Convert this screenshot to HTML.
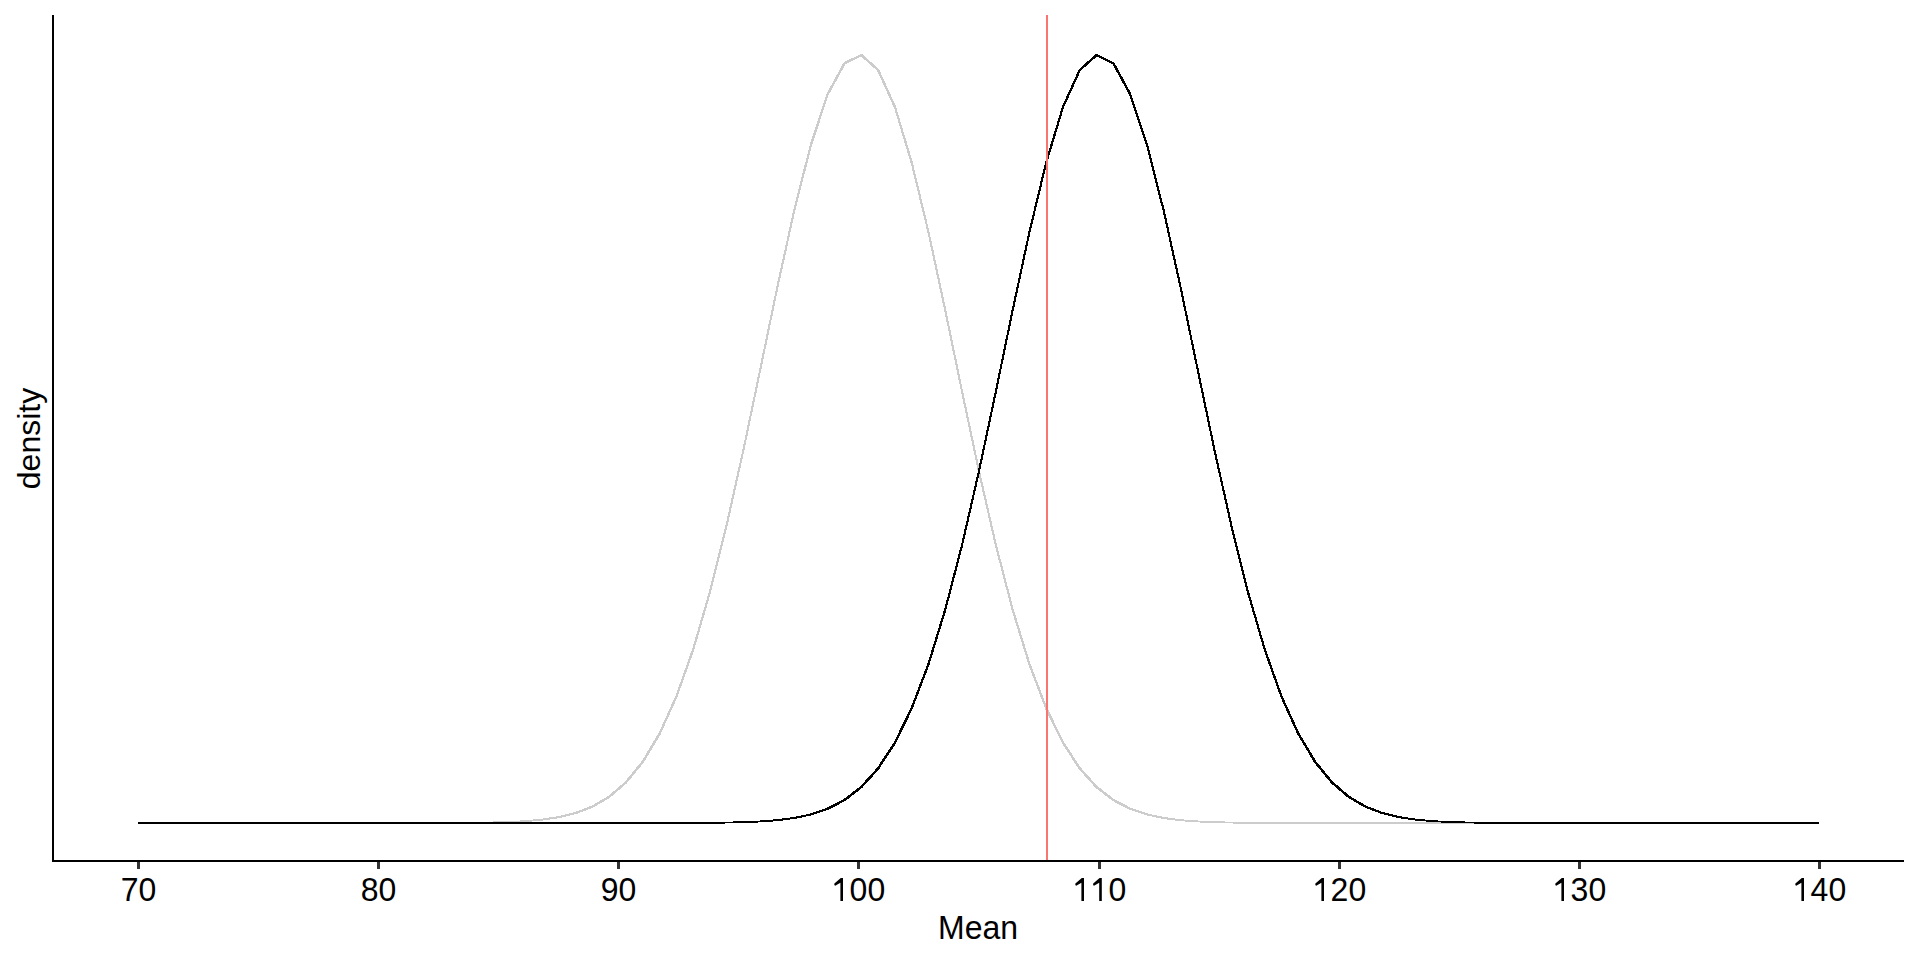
<!DOCTYPE html>
<html><head><meta charset="utf-8"><style>
html,body{margin:0;padding:0;background:#fff;}
body{width:1920px;height:960px;overflow:hidden;}
svg{display:block;}
text{font-family:"Liberation Sans",sans-serif;font-size:32px;fill:#000;}
</style></head><body>
<svg width="1920" height="960" viewBox="0 0 1920 960">
<rect width="1920" height="960" fill="#fff"/>
<defs><clipPath id="c"><rect x="138" y="0" width="1681" height="960"/></clipPath></defs>
<path d="M137.55,822.1 L156.16,822.1 L156.16,823.9 L137.55,823.9ZM154.36,822.1 L172.97,822.1 L172.97,823.9 L154.36,823.9ZM171.17,822.1 L189.78,822.1 L189.78,823.9 L171.17,823.9ZM187.98,822.1 L206.59,822.1 L206.59,823.9 L187.98,823.9ZM204.79,822.1 L223.4,822.1 L223.4,823.9 L204.79,823.9ZM221.6,822.1 L240.21,822.1 L240.21,823.9 L221.6,823.9ZM238.41,822.1 L257.02,822.1 L257.02,823.9 L238.41,823.9ZM255.22,822.1 L273.83,822.1 L273.83,823.9 L255.22,823.9ZM272.03,822.1 L290.64,822.1 L290.64,823.9 L272.03,823.9ZM288.84,822.1 L307.45,822.1 L307.45,823.9 L288.84,823.9ZM305.65,822.1 L324.26,822.1 L324.26,823.9 L305.65,823.9ZM322.46,822.1 L341.07,822.1 L341.07,823.9 L322.46,823.9ZM339.27,822.1 L357.88,822.1 L357.88,823.9 L339.27,823.9ZM356.08,822.1 L374.69,822.1 L374.69,823.9 L356.08,823.9ZM372.89,822.1 L389.7,822.09 L391.5,822.09 L391.5,823.89 L374.69,823.9 L372.89,823.9ZM389.7,822.09 L408.31,822.09 L408.31,823.89 L389.7,823.89ZM406.51,822.09 L423.32,822.07 L425.12,822.07 L425.12,823.87 L408.31,823.89 L406.51,823.89ZM423.32,822.07 L440.13,822.04 L441.93,822.04 L441.93,823.84 L425.12,823.87 L423.32,823.87ZM440.13,822.04 L456.94,821.97 L458.74,821.97 L458.74,823.77 L441.93,823.84 L440.13,823.84ZM456.94,821.97 L473.75,821.84 L475.55,821.84 L475.55,823.64 L458.74,823.77 L456.94,823.77ZM473.75,821.84 L490.56,821.59 L492.36,821.59 L492.36,823.39 L475.55,823.64 L473.75,823.64ZM490.56,821.59 L507.37,821.12 L509.17,821.12 L509.17,822.92 L492.36,823.39 L490.56,823.39ZM507.37,821.12 L524.18,820.27 L525.98,820.27 L525.98,822.07 L509.17,822.92 L507.37,822.92ZM524.18,820.27 L540.99,818.78 L542.79,818.78 L542.79,820.58 L525.98,822.07 L524.18,822.07ZM540.99,818.78 L557.8,816.28 L559.6,816.28 L559.6,818.08 L542.79,820.58 L540.99,820.58ZM557.8,816.28 L574.61,812.2 L576.41,812.2 L576.41,814 L559.6,818.08 L557.8,818.08ZM574.61,812.2 L591.42,805.76 L593.22,805.76 L593.22,807.56 L576.41,814 L574.61,814ZM591.42,805.76 L608.23,795.94 L610.03,795.94 L610.03,797.74 L593.22,807.56 L591.42,807.56ZM608.23,795.94 L625.04,781.5 L626.84,781.5 L626.84,783.3 L610.03,797.74 L608.23,797.74ZM625.04,781.5 L641.85,760.98 L643.65,760.98 L643.65,762.78 L626.84,783.3 L625.04,783.3ZM641.85,760.98 L658.66,732.86 L660.46,732.86 L660.46,734.66 L643.65,762.78 L641.85,762.78ZM658.66,732.86 L675.47,695.74 L677.27,695.74 L677.27,697.54 L660.46,734.66 L658.66,734.66ZM675.47,695.74 L692.28,648.58 L694.08,648.58 L694.08,650.38 L677.27,697.54 L675.47,697.54ZM692.28,648.58 L709.09,591 L710.89,591 L710.89,592.8 L694.08,650.38 L692.28,650.38ZM709.09,591 L725.9,523.59 L727.7,523.59 L727.7,525.39 L710.89,592.8 L709.09,592.8ZM725.9,523.59 L742.71,448.16 L744.51,448.16 L744.51,449.96 L727.7,525.39 L725.9,525.39ZM742.71,448.16 L759.52,367.79 L761.32,367.79 L761.32,369.59 L744.51,449.96 L742.71,449.96ZM759.52,367.79 L776.33,286.79 L778.13,286.79 L778.13,288.59 L761.32,369.59 L759.52,369.59ZM776.33,286.79 L793.14,210.37 L794.94,210.37 L794.94,212.17 L778.13,288.59 L776.33,288.59ZM793.14,210.37 L809.95,144.13 L811.75,144.13 L811.75,145.93 L794.94,212.17 L793.14,212.17ZM809.95,144.13 L826.76,93.38 L828.56,93.38 L828.56,95.18 L811.75,145.93 L809.95,145.93ZM826.76,93.38 L843.57,62.45 L845.37,62.45 L845.37,64.25 L828.56,95.18 L826.76,95.18ZM843.57,62.45 L860.38,54.1 L862.18,54.1 L862.18,55.9 L845.37,64.25 L843.57,64.25ZM860.38,54.1 L862.18,54.1 L878.99,69.07 L878.99,70.87 L877.19,70.87 L860.38,55.9ZM877.19,69.07 L878.99,69.07 L895.8,106.02 L895.8,107.82 L894,107.82 L877.19,70.87ZM894,106.02 L895.8,106.02 L912.61,161.7 L912.61,163.5 L910.81,163.5 L894,107.82ZM910.81,161.7 L912.61,161.7 L929.42,231.41 L929.42,233.21 L927.62,233.21 L910.81,163.5ZM927.62,231.41 L929.42,231.41 L946.23,309.7 L946.23,311.5 L944.43,311.5 L927.62,233.21ZM944.43,309.7 L946.23,309.7 L963.04,391.02 L963.04,392.82 L961.24,392.82 L944.43,311.5ZM961.24,391.02 L963.04,391.02 L979.85,470.37 L979.85,472.17 L978.05,472.17 L961.24,392.82ZM978.05,470.37 L979.85,470.37 L996.66,543.77 L996.66,545.57 L994.86,545.57 L978.05,472.17ZM994.86,543.77 L996.66,543.77 L1013.47,608.5 L1013.47,610.3 L1011.67,610.3 L994.86,545.57ZM1011.67,608.5 L1013.47,608.5 L1030.28,663.12 L1030.28,664.92 L1028.48,664.92 L1011.67,610.3ZM1028.48,663.12 L1030.28,663.12 L1047.09,707.34 L1047.09,709.14 L1045.29,709.14 L1028.48,664.92ZM1045.29,707.34 L1047.09,707.34 L1063.9,741.76 L1063.9,743.56 L1062.1,743.56 L1045.29,709.14ZM1062.1,741.76 L1063.9,741.76 L1080.71,767.55 L1080.71,769.35 L1078.91,769.35 L1062.1,743.56ZM1078.91,767.55 L1080.71,767.55 L1097.52,786.18 L1097.52,787.98 L1095.72,787.98 L1078.91,769.35ZM1095.72,786.18 L1097.52,786.18 L1114.33,799.16 L1114.33,800.96 L1112.53,800.96 L1095.72,787.98ZM1112.53,799.16 L1114.33,799.16 L1131.14,807.89 L1131.14,809.69 L1129.34,809.69 L1112.53,800.96ZM1129.34,807.89 L1131.14,807.89 L1147.95,813.57 L1147.95,815.37 L1146.15,815.37 L1129.34,809.69ZM1146.15,813.57 L1147.95,813.57 L1164.76,817.13 L1164.76,818.93 L1162.96,818.93 L1146.15,815.37ZM1162.96,817.13 L1164.76,817.13 L1181.57,819.29 L1181.57,821.09 L1179.77,821.09 L1162.96,818.93ZM1179.77,819.29 L1181.57,819.29 L1198.38,820.56 L1198.38,822.36 L1196.58,822.36 L1179.77,821.09ZM1196.58,820.56 L1198.38,820.56 L1215.19,821.28 L1215.19,823.08 L1213.39,823.08 L1196.58,822.36ZM1213.39,821.28 L1215.19,821.28 L1232,821.68 L1232,823.48 L1230.2,823.48 L1213.39,823.08ZM1230.2,821.68 L1232,821.68 L1248.81,821.89 L1248.81,823.69 L1247.01,823.69 L1230.2,823.48ZM1247.01,821.89 L1248.81,821.89 L1265.62,822 L1265.62,823.8 L1263.82,823.8 L1247.01,823.69ZM1263.82,822 L1265.62,822 L1282.43,822.05 L1282.43,823.85 L1280.63,823.85 L1263.82,823.8ZM1280.63,822.05 L1282.43,822.05 L1299.24,822.08 L1299.24,823.88 L1297.44,823.88 L1280.63,823.85ZM1297.44,822.08 L1299.24,822.08 L1316.05,822.09 L1316.05,823.89 L1314.25,823.89 L1297.44,823.88ZM1314.25,822.09 L1316.05,822.09 L1332.86,822.1 L1332.86,823.9 L1331.06,823.9 L1314.25,823.89ZM1331.06,822.1 L1349.67,822.1 L1349.67,823.9 L1331.06,823.9ZM1347.87,822.1 L1366.48,822.1 L1366.48,823.9 L1347.87,823.9ZM1364.68,822.1 L1383.29,822.1 L1383.29,823.9 L1364.68,823.9ZM1381.49,822.1 L1400.1,822.1 L1400.1,823.9 L1381.49,823.9ZM1398.3,822.1 L1416.91,822.1 L1416.91,823.9 L1398.3,823.9ZM1415.11,822.1 L1433.72,822.1 L1433.72,823.9 L1415.11,823.9ZM1431.92,822.1 L1450.53,822.1 L1450.53,823.9 L1431.92,823.9ZM1448.73,822.1 L1467.34,822.1 L1467.34,823.9 L1448.73,823.9ZM1465.54,822.1 L1484.15,822.1 L1484.15,823.9 L1465.54,823.9ZM1482.35,822.1 L1500.96,822.1 L1500.96,823.9 L1482.35,823.9ZM1499.16,822.1 L1517.77,822.1 L1517.77,823.9 L1499.16,823.9ZM1515.97,822.1 L1534.58,822.1 L1534.58,823.9 L1515.97,823.9ZM1532.78,822.1 L1551.39,822.1 L1551.39,823.9 L1532.78,823.9ZM1549.59,822.1 L1568.2,822.1 L1568.2,823.9 L1549.59,823.9ZM1566.4,822.1 L1585.01,822.1 L1585.01,823.9 L1566.4,823.9ZM1583.21,822.1 L1601.82,822.1 L1601.82,823.9 L1583.21,823.9ZM1600.02,822.1 L1618.63,822.1 L1618.63,823.9 L1600.02,823.9ZM1616.83,822.1 L1635.44,822.1 L1635.44,823.9 L1616.83,823.9ZM1633.64,822.1 L1652.25,822.1 L1652.25,823.9 L1633.64,823.9ZM1650.45,822.1 L1669.06,822.1 L1669.06,823.9 L1650.45,823.9ZM1667.26,822.1 L1685.87,822.1 L1685.87,823.9 L1667.26,823.9ZM1684.07,822.1 L1702.68,822.1 L1702.68,823.9 L1684.07,823.9ZM1700.88,822.1 L1719.49,822.1 L1719.49,823.9 L1700.88,823.9ZM1717.69,822.1 L1736.3,822.1 L1736.3,823.9 L1717.69,823.9ZM1734.5,822.1 L1753.11,822.1 L1753.11,823.9 L1734.5,823.9ZM1751.31,822.1 L1769.92,822.1 L1769.92,823.9 L1751.31,823.9ZM1768.12,822.1 L1786.73,822.1 L1786.73,823.9 L1768.12,823.9ZM1784.93,822.1 L1803.54,822.1 L1803.54,823.9 L1784.93,823.9ZM1801.74,822.1 L1820.35,822.1 L1820.35,823.9 L1801.74,823.9Z" fill="#CCCCCC" shape-rendering="crispEdges" clip-path="url(#c)"/>
<path d="M137.55,822.1 L156.16,822.1 L156.16,823.9 L137.55,823.9ZM154.36,822.1 L172.97,822.1 L172.97,823.9 L154.36,823.9ZM171.17,822.1 L189.78,822.1 L189.78,823.9 L171.17,823.9ZM187.98,822.1 L206.59,822.1 L206.59,823.9 L187.98,823.9ZM204.79,822.1 L223.4,822.1 L223.4,823.9 L204.79,823.9ZM221.6,822.1 L240.21,822.1 L240.21,823.9 L221.6,823.9ZM238.41,822.1 L257.02,822.1 L257.02,823.9 L238.41,823.9ZM255.22,822.1 L273.83,822.1 L273.83,823.9 L255.22,823.9ZM272.03,822.1 L290.64,822.1 L290.64,823.9 L272.03,823.9ZM288.84,822.1 L307.45,822.1 L307.45,823.9 L288.84,823.9ZM305.65,822.1 L324.26,822.1 L324.26,823.9 L305.65,823.9ZM322.46,822.1 L341.07,822.1 L341.07,823.9 L322.46,823.9ZM339.27,822.1 L357.88,822.1 L357.88,823.9 L339.27,823.9ZM356.08,822.1 L374.69,822.1 L374.69,823.9 L356.08,823.9ZM372.89,822.1 L391.5,822.1 L391.5,823.9 L372.89,823.9ZM389.7,822.1 L408.31,822.1 L408.31,823.9 L389.7,823.9ZM406.51,822.1 L425.12,822.1 L425.12,823.9 L406.51,823.9ZM423.32,822.1 L441.93,822.1 L441.93,823.9 L423.32,823.9ZM440.13,822.1 L458.74,822.1 L458.74,823.9 L440.13,823.9ZM456.94,822.1 L475.55,822.1 L475.55,823.9 L456.94,823.9ZM473.75,822.1 L492.36,822.1 L492.36,823.9 L473.75,823.9ZM490.56,822.1 L509.17,822.1 L509.17,823.9 L490.56,823.9ZM507.37,822.1 L525.98,822.1 L525.98,823.9 L507.37,823.9ZM524.18,822.1 L542.79,822.1 L542.79,823.9 L524.18,823.9ZM540.99,822.1 L559.6,822.1 L559.6,823.9 L540.99,823.9ZM557.8,822.1 L576.41,822.1 L576.41,823.9 L557.8,823.9ZM574.61,822.1 L593.22,822.1 L593.22,823.9 L574.61,823.9ZM591.42,822.1 L610.03,822.1 L610.03,823.9 L591.42,823.9ZM608.23,822.1 L626.84,822.1 L626.84,823.9 L608.23,823.9ZM625.04,822.1 L641.85,822.09 L643.65,822.09 L643.65,823.89 L626.84,823.9 L625.04,823.9ZM641.85,822.09 L658.66,822.08 L660.46,822.08 L660.46,823.88 L643.65,823.89 L641.85,823.89ZM658.66,822.08 L675.47,822.05 L677.27,822.05 L677.27,823.85 L660.46,823.88 L658.66,823.88ZM675.47,822.05 L692.28,822 L694.08,822 L694.08,823.8 L677.27,823.85 L675.47,823.85ZM692.28,822 L709.09,821.89 L710.89,821.89 L710.89,823.69 L694.08,823.8 L692.28,823.8ZM709.09,821.89 L725.9,821.68 L727.7,821.68 L727.7,823.48 L710.89,823.69 L709.09,823.69ZM725.9,821.68 L742.71,821.28 L744.51,821.28 L744.51,823.08 L727.7,823.48 L725.9,823.48ZM742.71,821.28 L759.52,820.56 L761.32,820.56 L761.32,822.36 L744.51,823.08 L742.71,823.08ZM759.52,820.56 L776.33,819.29 L778.13,819.29 L778.13,821.09 L761.32,822.36 L759.52,822.36ZM776.33,819.29 L793.14,817.13 L794.94,817.13 L794.94,818.93 L778.13,821.09 L776.33,821.09ZM793.14,817.13 L809.95,813.57 L811.75,813.57 L811.75,815.37 L794.94,818.93 L793.14,818.93ZM809.95,813.57 L826.76,807.89 L828.56,807.89 L828.56,809.69 L811.75,815.37 L809.95,815.37ZM826.76,807.89 L843.57,799.16 L845.37,799.16 L845.37,800.96 L828.56,809.69 L826.76,809.69ZM843.57,799.16 L860.38,786.18 L862.18,786.18 L862.18,787.98 L845.37,800.96 L843.57,800.96ZM860.38,786.18 L877.19,767.55 L878.99,767.55 L878.99,769.35 L862.18,787.98 L860.38,787.98ZM877.19,767.55 L894,741.76 L895.8,741.76 L895.8,743.56 L878.99,769.35 L877.19,769.35ZM894,741.76 L910.81,707.34 L912.61,707.34 L912.61,709.14 L895.8,743.56 L894,743.56ZM910.81,707.34 L927.62,663.12 L929.42,663.12 L929.42,664.92 L912.61,709.14 L910.81,709.14ZM927.62,663.12 L944.43,608.5 L946.23,608.5 L946.23,610.3 L929.42,664.92 L927.62,664.92ZM944.43,608.5 L961.24,543.77 L963.04,543.77 L963.04,545.57 L946.23,610.3 L944.43,610.3ZM961.24,543.77 L978.05,470.37 L979.85,470.37 L979.85,472.17 L963.04,545.57 L961.24,545.57ZM978.05,470.37 L994.86,391.02 L996.66,391.02 L996.66,392.82 L979.85,472.17 L978.05,472.17ZM994.86,391.02 L1011.67,309.7 L1013.47,309.7 L1013.47,311.5 L996.66,392.82 L994.86,392.82ZM1011.67,309.7 L1028.48,231.41 L1030.28,231.41 L1030.28,233.21 L1013.47,311.5 L1011.67,311.5ZM1028.48,231.41 L1045.29,161.7 L1047.09,161.7 L1047.09,163.5 L1030.28,233.21 L1028.48,233.21ZM1045.29,161.7 L1062.1,106.02 L1063.9,106.02 L1063.9,107.82 L1047.09,163.5 L1045.29,163.5ZM1062.1,106.02 L1078.91,69.07 L1080.71,69.07 L1080.71,70.87 L1063.9,107.82 L1062.1,107.82ZM1078.91,69.07 L1095.72,54.1 L1097.52,54.1 L1097.52,55.9 L1080.71,70.87 L1078.91,70.87ZM1095.72,54.1 L1097.52,54.1 L1114.33,62.45 L1114.33,64.25 L1112.53,64.25 L1095.72,55.9ZM1112.53,62.45 L1114.33,62.45 L1131.14,93.38 L1131.14,95.18 L1129.34,95.18 L1112.53,64.25ZM1129.34,93.38 L1131.14,93.38 L1147.95,144.13 L1147.95,145.93 L1146.15,145.93 L1129.34,95.18ZM1146.15,144.13 L1147.95,144.13 L1164.76,210.37 L1164.76,212.17 L1162.96,212.17 L1146.15,145.93ZM1162.96,210.37 L1164.76,210.37 L1181.57,286.79 L1181.57,288.59 L1179.77,288.59 L1162.96,212.17ZM1179.77,286.79 L1181.57,286.79 L1198.38,367.79 L1198.38,369.59 L1196.58,369.59 L1179.77,288.59ZM1196.58,367.79 L1198.38,367.79 L1215.19,448.16 L1215.19,449.96 L1213.39,449.96 L1196.58,369.59ZM1213.39,448.16 L1215.19,448.16 L1232,523.59 L1232,525.39 L1230.2,525.39 L1213.39,449.96ZM1230.2,523.59 L1232,523.59 L1248.81,591 L1248.81,592.8 L1247.01,592.8 L1230.2,525.39ZM1247.01,591 L1248.81,591 L1265.62,648.58 L1265.62,650.38 L1263.82,650.38 L1247.01,592.8ZM1263.82,648.58 L1265.62,648.58 L1282.43,695.74 L1282.43,697.54 L1280.63,697.54 L1263.82,650.38ZM1280.63,695.74 L1282.43,695.74 L1299.24,732.86 L1299.24,734.66 L1297.44,734.66 L1280.63,697.54ZM1297.44,732.86 L1299.24,732.86 L1316.05,760.98 L1316.05,762.78 L1314.25,762.78 L1297.44,734.66ZM1314.25,760.98 L1316.05,760.98 L1332.86,781.5 L1332.86,783.3 L1331.06,783.3 L1314.25,762.78ZM1331.06,781.5 L1332.86,781.5 L1349.67,795.94 L1349.67,797.74 L1347.87,797.74 L1331.06,783.3ZM1347.87,795.94 L1349.67,795.94 L1366.48,805.76 L1366.48,807.56 L1364.68,807.56 L1347.87,797.74ZM1364.68,805.76 L1366.48,805.76 L1383.29,812.2 L1383.29,814 L1381.49,814 L1364.68,807.56ZM1381.49,812.2 L1383.29,812.2 L1400.1,816.28 L1400.1,818.08 L1398.3,818.08 L1381.49,814ZM1398.3,816.28 L1400.1,816.28 L1416.91,818.78 L1416.91,820.58 L1415.11,820.58 L1398.3,818.08ZM1415.11,818.78 L1416.91,818.78 L1433.72,820.27 L1433.72,822.07 L1431.92,822.07 L1415.11,820.58ZM1431.92,820.27 L1433.72,820.27 L1450.53,821.12 L1450.53,822.92 L1448.73,822.92 L1431.92,822.07ZM1448.73,821.12 L1450.53,821.12 L1467.34,821.59 L1467.34,823.39 L1465.54,823.39 L1448.73,822.92ZM1465.54,821.59 L1467.34,821.59 L1484.15,821.84 L1484.15,823.64 L1482.35,823.64 L1465.54,823.39ZM1482.35,821.84 L1484.15,821.84 L1500.96,821.97 L1500.96,823.77 L1499.16,823.77 L1482.35,823.64ZM1499.16,821.97 L1500.96,821.97 L1517.77,822.04 L1517.77,823.84 L1515.97,823.84 L1499.16,823.77ZM1515.97,822.04 L1517.77,822.04 L1534.58,822.07 L1534.58,823.87 L1532.78,823.87 L1515.97,823.84ZM1532.78,822.07 L1534.58,822.07 L1551.39,822.09 L1551.39,823.89 L1549.59,823.89 L1532.78,823.87ZM1549.59,822.09 L1568.2,822.09 L1568.2,823.89 L1549.59,823.89ZM1566.4,822.09 L1568.2,822.09 L1585.01,822.1 L1585.01,823.9 L1583.21,823.9 L1566.4,823.89ZM1583.21,822.1 L1601.82,822.1 L1601.82,823.9 L1583.21,823.9ZM1600.02,822.1 L1618.63,822.1 L1618.63,823.9 L1600.02,823.9ZM1616.83,822.1 L1635.44,822.1 L1635.44,823.9 L1616.83,823.9ZM1633.64,822.1 L1652.25,822.1 L1652.25,823.9 L1633.64,823.9ZM1650.45,822.1 L1669.06,822.1 L1669.06,823.9 L1650.45,823.9ZM1667.26,822.1 L1685.87,822.1 L1685.87,823.9 L1667.26,823.9ZM1684.07,822.1 L1702.68,822.1 L1702.68,823.9 L1684.07,823.9ZM1700.88,822.1 L1719.49,822.1 L1719.49,823.9 L1700.88,823.9ZM1717.69,822.1 L1736.3,822.1 L1736.3,823.9 L1717.69,823.9ZM1734.5,822.1 L1753.11,822.1 L1753.11,823.9 L1734.5,823.9ZM1751.31,822.1 L1769.92,822.1 L1769.92,823.9 L1751.31,823.9ZM1768.12,822.1 L1786.73,822.1 L1786.73,823.9 L1768.12,823.9ZM1784.93,822.1 L1803.54,822.1 L1803.54,823.9 L1784.93,823.9ZM1801.74,822.1 L1820.35,822.1 L1820.35,823.9 L1801.74,823.9Z" fill="#000" shape-rendering="crispEdges" clip-path="url(#c)"/>
<rect x="1046" y="15" width="2" height="846" fill="#F8766D"/>
<rect x="52" y="15" width="2" height="847" fill="#000"/>
<rect x="52" y="860" width="1852" height="2" fill="#000"/>
<g fill="#333"><rect x="137" y="862" width="3" height="7"/><rect x="377" y="862" width="3" height="7"/><rect x="617" y="862" width="3" height="7"/><rect x="857" y="862" width="3" height="7"/><rect x="1098" y="862" width="3" height="7"/><rect x="1338" y="862" width="3" height="7"/><rect x="1578" y="862" width="3" height="7"/><rect x="1818" y="862" width="3" height="7"/></g>
<g fill="#000"><text transform="translate(120.70,900.5) scale(1,1.045)">7</text><text transform="translate(138.50,900.5) scale(1,1.045)">0</text><text transform="translate(360.70,900.5) scale(1,1.045)">8</text><text transform="translate(378.50,900.5) scale(1,1.045)">0</text><text transform="translate(600.70,900.5) scale(1,1.045)">9</text><text transform="translate(618.50,900.5) scale(1,1.045)">0</text><path d="M843.00,901 L840.40,901 L840.40,882.7 L835.20,885.8 L834.30,885.1 L834.40,883.5 L840.80,878 L843.00,878Z"/><text transform="translate(849.60,900.5) scale(1,1.045)">0</text><text transform="translate(867.40,900.5) scale(1,1.045)">0</text><path d="M1084.00,901 L1081.40,901 L1081.40,882.7 L1076.20,885.8 L1075.30,885.1 L1075.40,883.5 L1081.80,878 L1084.00,878Z"/><path d="M1101.80,901 L1099.20,901 L1099.20,882.7 L1094.00,885.8 L1093.10,885.1 L1093.20,883.5 L1099.60,878 L1101.80,878Z"/><text transform="translate(1108.40,900.5) scale(1,1.045)">0</text><path d="M1324.00,901 L1321.40,901 L1321.40,882.7 L1316.20,885.8 L1315.30,885.1 L1315.40,883.5 L1321.80,878 L1324.00,878Z"/><text transform="translate(1330.60,900.5) scale(1,1.045)">2</text><text transform="translate(1348.40,900.5) scale(1,1.045)">0</text><path d="M1564.00,901 L1561.40,901 L1561.40,882.7 L1556.20,885.8 L1555.30,885.1 L1555.40,883.5 L1561.80,878 L1564.00,878Z"/><text transform="translate(1570.60,900.5) scale(1,1.045)">3</text><text transform="translate(1588.40,900.5) scale(1,1.045)">0</text><path d="M1804.00,901 L1801.40,901 L1801.40,882.7 L1796.20,885.8 L1795.30,885.1 L1795.40,883.5 L1801.80,878 L1804.00,878Z"/><text transform="translate(1810.60,900.5) scale(1,1.045)">4</text><text transform="translate(1828.40,900.5) scale(1,1.045)">0</text></g>
<text transform="translate(978,939) scale(1,1.045)" text-anchor="middle">Mean</text>
<text transform="translate(40,438.5) rotate(-90)" text-anchor="middle">density</text>
</svg>
</body></html>
